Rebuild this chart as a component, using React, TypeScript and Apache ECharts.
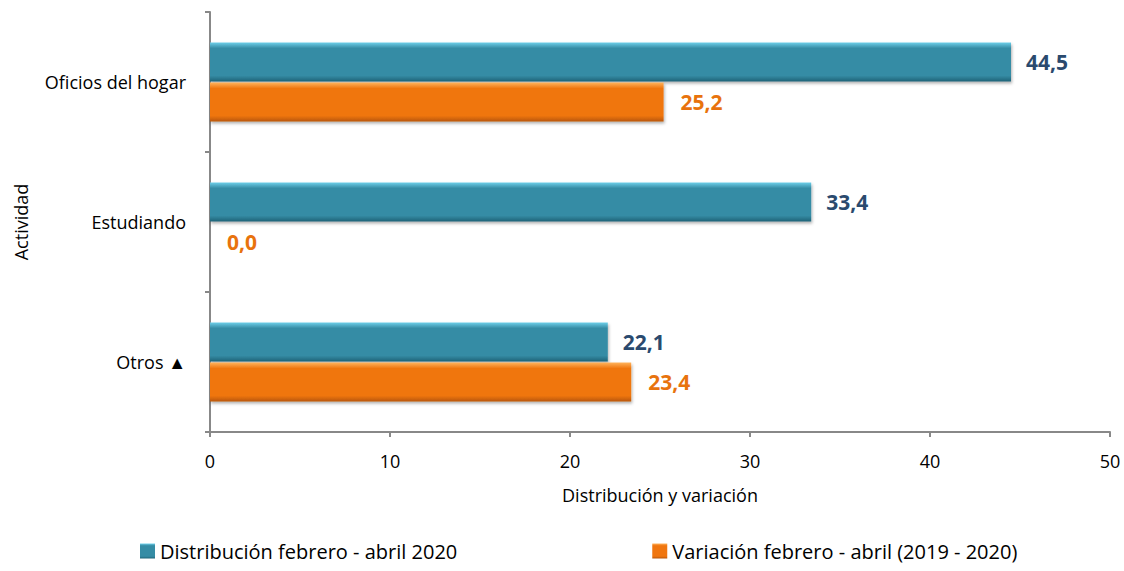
import React, { useEffect, useRef } from "react";
import * as echarts from "echarts";

const categories = ["Oficios del hogar", "Estudiando", "Otros ▲"];
const distribucion = [44.5, 33.4, 22.1];
const variacion = [25.2, 0.0, 23.4];
const xTicks = [0, 10, 20, 30, 40, 50];
const seriesNames = ["Distribución febrero - abril 2020", "Variación febrero - abril (2019 - 2020)"];

const FONT = "'Open Sans', sans-serif";

function grad(top: string, mid: string, bottom: string) {
  return new echarts.graphic.LinearGradient(0, 0, 0, 1, [
    { offset: 0, color: top },
    { offset: 0.15, color: mid },
    { offset: 0.85, color: mid },
    { offset: 1, color: bottom },
  ]);
}

export default function App() {
  const ref = useRef<HTMLDivElement>(null);
  useEffect(() => {
    const chart = echarts.init(ref.current!, null, { renderer: "svg" });
    const fmt = (p: any) => Number(p.value).toFixed(1).replace(".", ",");
    chart.setOption({
      animation: false,
      textStyle: { fontFamily: FONT },
      grid: { left: 210, right: 14, top: 12, bottom: 139 },
      legend: {
        bottom: 5,
        left: 135,
        itemGap: 195,
        itemWidth: 15,
        itemHeight: 15,
        icon: "rect",
        textStyle: { fontSize: 20, color: "#000", fontFamily: FONT },
        data: seriesNames,
      },
      xAxis: {
        type: "value",
        min: xTicks[0],
        max: xTicks[xTicks.length - 1],
        interval: 10,
        name: "Distribución y variación",
        nameLocation: "middle",
        nameGap: 54,
        nameTextStyle: { fontSize: 18, color: "#000", fontFamily: FONT },
        axisLine: { show: true, lineStyle: { color: "#888", width: 2 } },
        axisTick: { show: true, length: 5, lineStyle: { color: "#888", width: 2 } },
        axisLabel: { fontSize: 18, color: "#000", margin: 20 },
        splitLine: { show: false },
      },
      yAxis: {
        type: "category",
        data: categories,
        inverse: true,
        name: "Actividad",
        nameLocation: "middle",
        nameGap: 180,
        nameRotate: 90,
        nameTextStyle: { fontSize: 18, color: "#000", fontFamily: FONT },
        axisLine: { show: true, lineStyle: { color: "#888", width: 2 } },
        axisTick: { show: true, length: 5, lineStyle: { color: "#888", width: 2 } },
        axisLabel: { fontSize: 18, color: "#000", margin: 24 },
      },
      series: [
        {
          name: seriesNames[0],
          type: "bar",
          data: distribucion,
          barWidth: 39,
          barGap: "3%",
          itemStyle: {
            color: grad("#6fd0ea", "#358ca5", "#1f6478"),
            shadowColor: "rgba(0,0,0,0.3)",
            shadowBlur: 3,
            shadowOffsetX: 1,
            shadowOffsetY: 2,
          },
          label: {
            show: true,
            position: "right",
            distance: 15,
            formatter: fmt,
            fontSize: 21,
            fontWeight: "bold",
            color: "#2a4a6e",
          },
        },
        {
          name: seriesNames[1],
          type: "bar",
          data: variacion,
          barWidth: 39,
          itemStyle: {
            color: grad("#ffb35c", "#f0760f", "#b8560a"),
            shadowColor: "rgba(0,0,0,0.3)",
            shadowBlur: 3,
            shadowOffsetX: 1,
            shadowOffsetY: 2,
          },
          label: {
            show: true,
            position: "right",
            distance: 17,
            formatter: fmt,
            fontSize: 21,
            fontWeight: "bold",
            color: "#e8730d",
          },
        },
      ],
    });
    return () => chart.dispose();
  }, []);
  return (
    <div
      ref={ref}
      style={{ position: "fixed", left: 0, top: 0, width: 1124, height: 571, background: "#fff" }}
    />
  );
}
